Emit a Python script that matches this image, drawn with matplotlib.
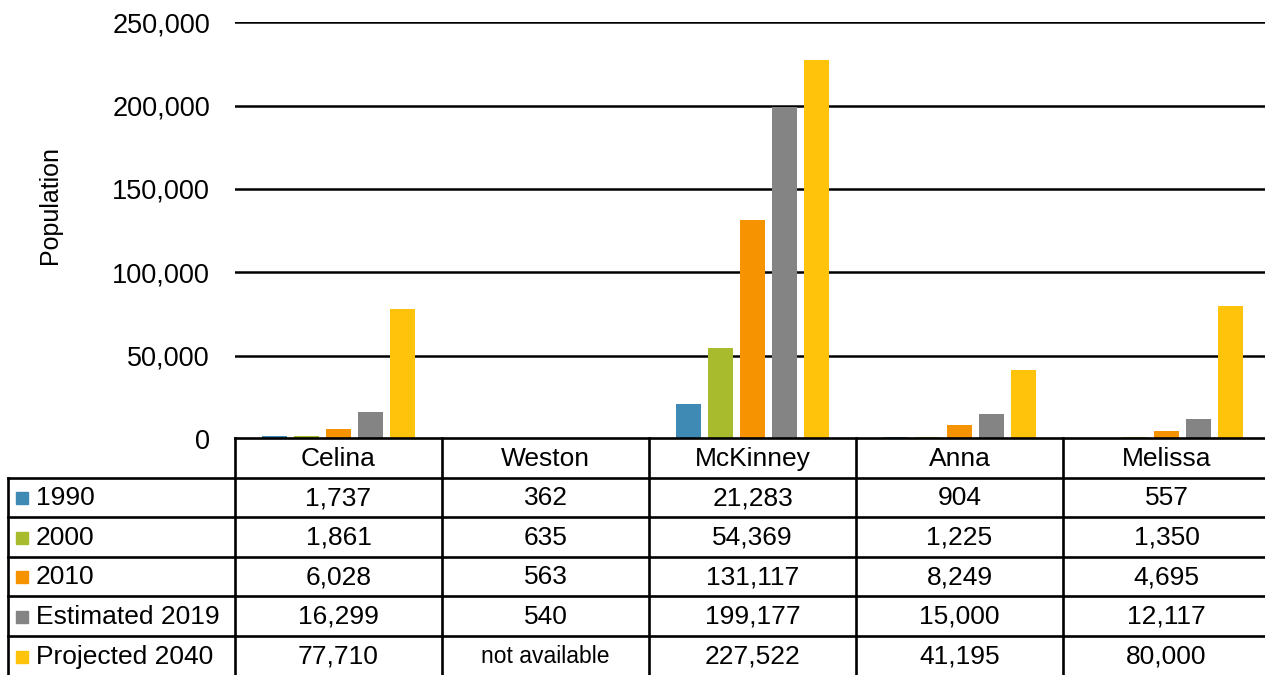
import numpy as np
import matplotlib
matplotlib.use('Agg')
import matplotlib.pyplot as plt
from matplotlib.lines import Line2D
from matplotlib.patches import Rectangle
from matplotlib.ticker import FuncFormatter
from matplotlib.transforms import blended_transform_factory

plt.rcParams['font.family'] = ['Liberation Sans', 'DejaVu Sans']

cities = ['Celina', 'Weston', 'McKinney', 'Anna', 'Melissa']
series_names = ['1990', '2000', '2010', 'Estimated 2019', 'Projected 2040']
pop_1990 = [1737, 362, 21283, 904, 557]
pop_2000 = [1861, 635, 54369, 1225, 1350]
pop_2010 = [6028, 563, 131117, 8249, 4695]
pop_2019 = [16299, 540, 199177, 15000, 12117]
pop_2040 = [77710, None, 227522, 41195, 80000]
colors = ['#3f8ab4', '#a8bb2d', '#f59300', '#848484', '#ffc30b']

series = [pop_1990, pop_2000, pop_2010, pop_2019, pop_2040]

W, H = 1265, 675
fig = plt.figure(figsize=(W / 100, H / 100), dpi=100)
# axes runs a little past the right edge, like the cropped original
ax = fig.add_axes([235 / W, 1 - 439 / H, 1035 / W, (439 - 22.3) / H])

x = np.arange(len(cities))
bw, step = 0.121, 0.155
for k, (vals, c) in enumerate(zip(series, colors)):
    v = np.array([np.nan if a is None else a for a in vals], dtype=float)
    ax.bar(x + (k - 2) * step, v, width=bw, color=c, zorder=2)

ax.set_xlim(-0.5, 4.5)
ax.set_ylim(0, 250000)
ax.set_yticks(np.arange(0, 250001, 50000))
ax.yaxis.set_major_formatter(FuncFormatter(lambda v, p: f'{int(v):,}'))
ax.set_xticks([])
ax.tick_params(axis='y', length=0, pad=18, labelsize=19.5, colors='black')
ax.yaxis.grid(True, color='black', lw=1.8, zorder=1)
for s in ax.spines.values():
    s.set_visible(False)
fig.text(50 / W, 1 - 205 / H, 'Population', rotation=90, ha='center',
         va='center', fontsize=18)

# data table under the chart
tx = blended_transform_factory(ax.transData, fig.transFigure)
rows_px = [438, 477.5, 517, 556.5, 596, 635.5, 676]
fy = lambda p: 1 - p / H
lw = 1.9

fig.add_artist(Line2D([235 / W, 1.01], [fy(rows_px[0])] * 2, color='black',
                      lw=lw, transform=fig.transFigure, zorder=5))
for p in rows_px[1:-1]:
    fig.add_artist(Line2D([8 / W, 1.01], [fy(p)] * 2, color='black', lw=lw,
                          transform=fig.transFigure, zorder=5))
fig.add_artist(Line2D([8 / W, 8 / W], [fy(rows_px[1]), fy(rows_px[-1])],
                      color='black', lw=lw, transform=fig.transFigure, zorder=5))
for b in np.arange(-0.5, 5, 1.0):
    fig.add_artist(Line2D([b, b], [fy(rows_px[0]), fy(rows_px[-1])],
                          color='black', lw=lw, transform=tx, zorder=5))

# header row
hc = fy((rows_px[0] + rows_px[1]) / 2 + 1)
for i, name in enumerate(cities):
    fig.text(i, hc, name, transform=tx, ha='center', va='center', fontsize=19)

# series rows
for r, (name, vals, c) in enumerate(zip(series_names, series, colors)):
    yc = fy((rows_px[r + 1] + rows_px[r + 2]) / 2 + 1)
    fig.add_artist(Rectangle((16 / W, yc - 6 / H), 12 / W, 12 / H, color=c,
                             transform=fig.transFigure))
    fig.text(36 / W, yc, name, ha='left', va='center', fontsize=19)
    for i, v in enumerate(vals):
        if v is None:
            fig.text(i, yc, 'not available', transform=tx, ha='center',
                     va='center', fontsize=16.5)
        else:
            fig.text(i, yc, f'{v:,}', transform=tx, ha='center', va='center',
                     fontsize=19)

fig.savefig('out.png', dpi=100)
